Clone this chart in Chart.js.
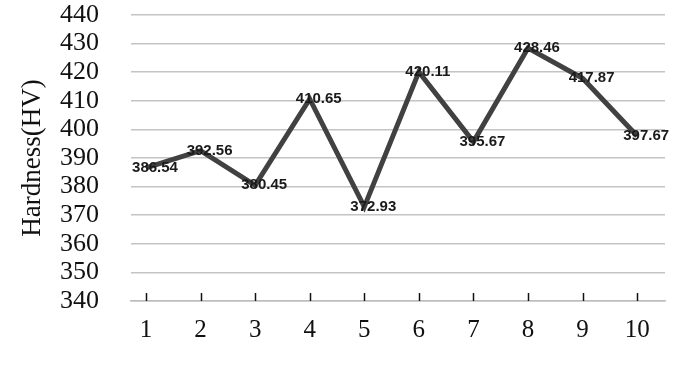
<!DOCTYPE html>
<html>
<head>
<meta charset="utf-8">
<script src="https://cdn.jsdelivr.net/npm/chart.js@4"></script>
<style>
  html, body { margin: 0; padding: 0; background: #fff; }
  #wrap { width: 700px; height: 390px; }
</style>
</head>
<body>
<div id="wrap"><canvas id="hardnessChart" width="700" height="390"></canvas></div>
<script>
const samples = [1, 2, 3, 4, 5, 6, 7, 8, 9, 10];
const hardness = [386.54, 392.56, 380.45, 410.65, 372.93, 420.11, 395.67, 428.46, 417.87, 397.67];
const yTicks = [340, 350, 360, 370, 380, 390, 400, 410, 420, 430, 440];

const points = samples.map((s, i) => ({ x: s, y: hardness[i] }));

// small upward ticks on the x axis, like the original
const upTicks = {
    id: "upTicks",
    afterDraw(chart) {
        const xs = chart.scales.x;
        const ctx = chart.ctx;
        const bottom = chart.chartArea.bottom;
        ctx.save();
        ctx.strokeStyle = "#111";
        ctx.lineWidth = 1.5;
        samples.forEach((s) => {
            const px = Math.round(xs.getPixelForValue(s)) + 0.5;
            ctx.beginPath();
            ctx.moveTo(px, bottom - 8);
            ctx.lineTo(px, bottom);
            ctx.stroke();
        });
        ctx.restore();
    },
};

// value labels sitting on the points
const valueLabels = {
    id: "valueLabels",
    afterDatasetsDraw(chart) {
        const ctx = chart.ctx;
        const meta = chart.getDatasetMeta(0);
        ctx.save();
        ctx.font = "bold 15px 'Liberation Sans'";
        ctx.fillStyle = "#1a1a1a";
        ctx.textAlign = "center";
        ctx.textBaseline = "middle";
        meta.data.forEach((pt, i) => {
            ctx.fillText(hardness[i].toFixed(2), pt.x + 9, pt.y);
        });
        ctx.restore();
    },
};

new Chart(document.getElementById("hardnessChart"), {
    type: "line",
    data: {
        datasets: [
            {
                data: points,
                borderColor: "#414141",
                borderWidth: 5,
                pointRadius: 0,
                tension: 0,
                fill: false,
            },
        ],
    },
    options: {
        responsive: false,
        animation: false,
        layout: {
            padding: { top: 15, right: 35, left: 0, bottom: 0 },
        },
        plugins: {
            legend: { display: false },
            title: { display: false },
            tooltip: { enabled: false },
        },
        scales: {
            x: {
                type: "linear",
                min: 0.725,
                max: 10.51,
                afterFit(scale) {
                    scale.height = 89;
                },
                ticks: {
                    stepSize: 1,
                    includeBounds: false,
                    autoSkip: false,
                    padding: 14,
                    color: "#111",
                    font: { family: "'Liberation Serif'", size: 25 },
                },
                grid: {
                    drawOnChartArea: false,
                    drawTicks: false,
                },
                border: {
                    display: true,
                    color: "#bdbdbd",
                    width: 1.5,
                },
            },
            y: {
                min: 340,
                max: 440,
                afterFit(scale) {
                    scale.width = 131;
                    scale.paddingTop = 15;
                    scale.paddingBottom = 0;
                },
                afterBuildTicks(scale) {
                    scale.ticks = yTicks.map((v) => ({ value: v }));
                },
                ticks: {
                    autoSkip: false,
                    padding: 32,
                    color: "#111",
                    font: { family: "'Liberation Serif'", size: 26 },
                },
                title: {
                    display: true,
                    text: "Hardness(HV)",
                    color: "#111",
                    font: { family: "'Liberation Serif'", size: 27 },
                    padding: { top: 17, bottom: 0 },
                },
                grid: {
                    color: "#c4c4c4",
                    lineWidth: 1.5,
                    drawTicks: false,
                },
                border: {
                    display: false,
                },
            },
        },
    },
    plugins: [upTicks, valueLabels],
});
</script>
</body>
</html>
